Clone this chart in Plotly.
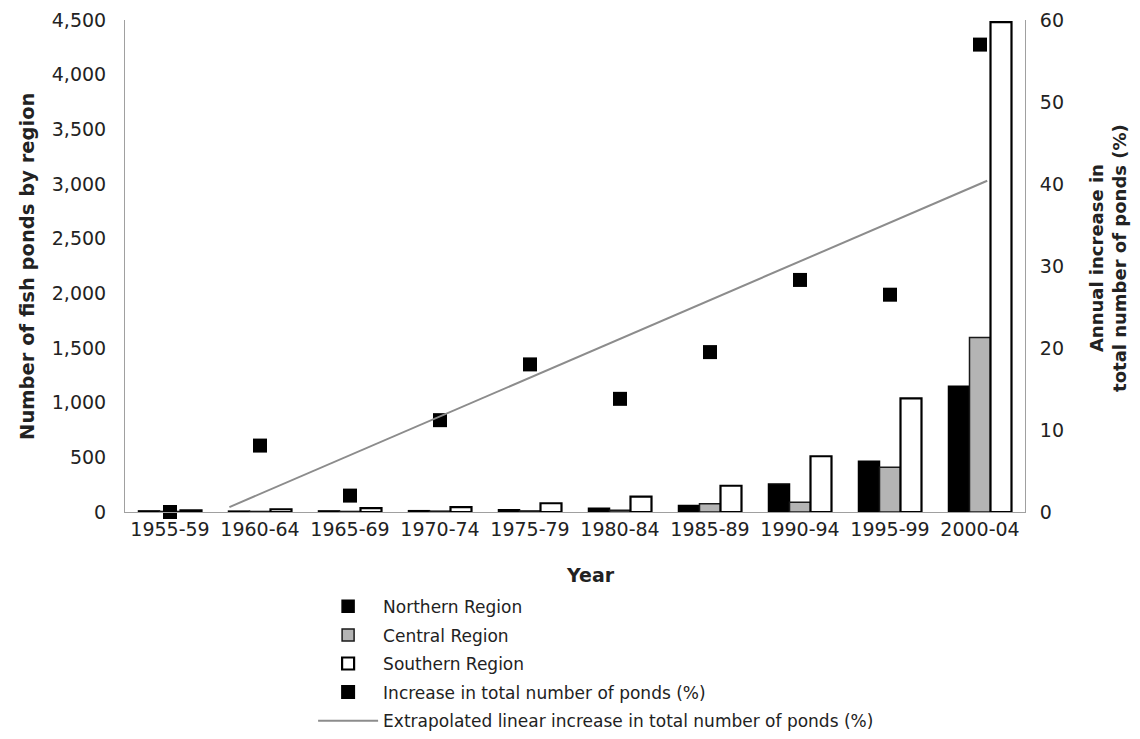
import plotly.graph_objects as go

periods = ["1955-59", "1960-64", "1965-69", "1970-74", "1975-79",
           "1980-84", "1985-89", "1990-94", "1995-99", "2000-04"]
northern = [10, 8, 10, 12, 20, 35, 60, 255, 465, 1150]
central = [5, 5, 5, 8, 10, 15, 75, 90, 410, 1595]
southern = [15, 25, 35, 45, 80, 140, 240, 510, 1040, 4480]
increase_pct = [0, 8.1, 2.0, 11.2, 18.0, 13.8, 19.5, 28.3, 26.5, 57.0]
trend_x = [0.66, 9.08]
trend_pct = [0.6, 40.4]

idx = list(range(len(periods)))
FONT = "DejaVu Sans"

fig = go.Figure()
fig.add_trace(go.Bar(x=idx, y=northern, name="Northern Region", legendgroup="n",
                     marker=dict(color="#000000", line=dict(color="#000000", width=1.5))))
fig.add_trace(go.Bar(x=idx, y=central, name="Central Region", legendgroup="c",
                     marker=dict(color="#b4b4b4", line=dict(color="#1a1a1a", width=1.5))))
fig.add_trace(go.Bar(x=idx, y=southern, name="Southern Region", legendgroup="s",
                     marker=dict(color="#ffffff", line=dict(color="#000000", width=2.2))))
fig.add_trace(go.Scatter(x=idx, y=increase_pct, yaxis="y2", mode="markers",
                         name="Increase in total number of ponds (%)", cliponaxis=False,
                         legendgroup="i",
                         marker=dict(symbol="square", size=14, color="#000000")))
fig.add_trace(go.Scatter(x=trend_x, y=trend_pct, yaxis="y2", mode="lines",
                         name="Extrapolated linear increase in total number of ponds (%)",
                         legendgroup="t",
                         line=dict(color="#8c8c8c", width=2)))

fig.update_layout(
    width=1132, height=731,
    margin=dict(l=117, r=115, t=12, b=227, autoexpand=False),
    plot_bgcolor="white", paper_bgcolor="white",
    font=dict(family=FONT, size=19, color="#222222"),
    barmode="group", bargap=0.3, bargroupgap=0,
    showlegend=True,
    legend=dict(x=0.209, y=-0.156, xanchor="left", yanchor="top",
                orientation="v", font=dict(size=17, color="#222222"),
                traceorder="grouped", tracegroupgap=3.5,
                bgcolor="rgba(0,0,0,0)", itemwidth=60),
    xaxis=dict(range=[-0.5, 9.5], tickmode="array", tickvals=idx, ticktext=periods,
               showgrid=False, zeroline=False, showline=True, linecolor="#a0a0a0",
               linewidth=1, ticks="", tickfont=dict(size=19), automargin=False),
    yaxis=dict(range=[0, 4500], dtick=500, tickformat=",", showgrid=False,
               zeroline=False, showline=True, linecolor="#a0a0a0", linewidth=1,
               mirror=True, ticks="", ticklabelstandoff=14, tickfont=dict(size=19),
               automargin=False),
    yaxis2=dict(range=[0, 60], dtick=10, overlaying="y", side="right",
                showgrid=False, zeroline=False, showline=True, linecolor="#a0a0a0",
                linewidth=1, ticks="", ticklabelstandoff=10, tickfont=dict(size=19),
                automargin=False),
)

fig.add_annotation(text="<b>Number of fish ponds by region</b>", xref="paper", yref="paper",
                   x=-0.109, y=0.5, xanchor="center", yanchor="middle", textangle=-90,
                   showarrow=False, font=dict(size=19.5, color="#222222"))
fig.add_annotation(text="<b>Annual increase in<br>total number of ponds (%)</b>",
                   xref="paper", yref="paper", x=1.092, y=0.516, xanchor="center",
                   yanchor="middle", textangle=-90, showarrow=False,
                   font=dict(size=18, color="#222222"))
fig.add_annotation(text="<b>Year</b>", xref="paper", yref="paper", x=0.517, y=-0.128,
                   xanchor="center", yanchor="middle", showarrow=False,
                   font=dict(size=19, color="#222222"))

fig.write_html("out.html")
